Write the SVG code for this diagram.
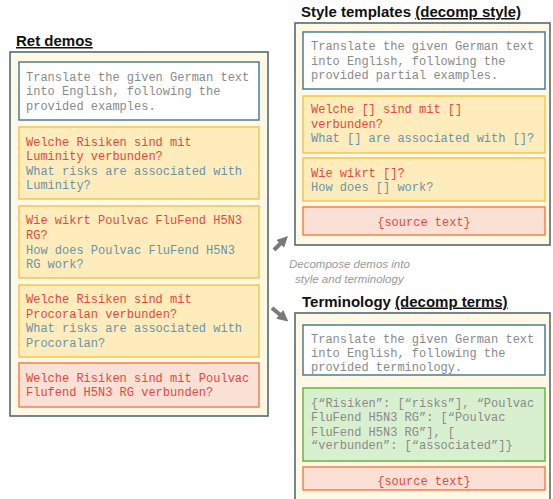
<svg xmlns="http://www.w3.org/2000/svg" width="553" height="499" viewBox="0 0 553 499">
<style>
.panel{fill:#fff8e5;stroke:#55696f;stroke-width:1.6}
.instr{fill:#ffffff;stroke:#3f7290;stroke-width:1.4}
.demo{fill:#feecbc;stroke:#f6c343;stroke-width:1.4}
.src{fill:#fbe1d5;stroke:#ee7b45;stroke-width:1.4}
.term{fill:#d9f0d0;stroke:#5cb13b;stroke-width:1.4}
.mono{font-family:"Liberation Mono","Courier New",monospace;font-size:12px}
.g{fill:#8a8a8a}
.de{fill:#e2493f}
.en{fill:#6a93a8}
.title{font-family:"Liberation Sans",Arial,sans-serif;font-weight:bold;font-size:15px;fill:#111}
.note{font-family:"Liberation Sans",Arial,sans-serif;font-style:italic;font-size:11.5px;fill:#9a9a9a}
.arrow{stroke:#7a7a7a;stroke-width:4;fill:none}
</style>
<defs>
<marker id="ah" viewBox="0 0 10 10" refX="5" refY="5" markerWidth="2.8" markerHeight="2.8" orient="auto">
<path d="M0,0 L10,5 L0,10 z" fill="#7a7a7a"/>
</marker>
</defs>

<g id="ret-demos">
<text class="title" x="16" y="46"><tspan text-decoration="underline">Ret demos</tspan></text>
<rect class="panel" x="10" y="52" width="258" height="364"/>
<rect class="instr" x="19" y="62" width="240" height="58"/>
<text class="mono g"><tspan x="26" y="80.5">Translate the given German text</tspan><tspan x="26" y="95">into English, following the</tspan><tspan x="26" y="109.5">provided examples.</tspan></text>
<rect class="demo" x="19" y="127" width="240" height="72"/>
<text class="mono"><tspan class="de" x="26" y="145.5">Welche Risiken sind mit</tspan><tspan class="de" x="26" y="160">Luminity verbunden?</tspan><tspan class="en" x="26" y="174.5">What risks are associated with</tspan><tspan class="en" x="26" y="189">Luminity?</tspan></text>
<rect class="demo" x="19" y="206" width="240" height="72"/>
<text class="mono"><tspan class="de" x="26" y="224">Wie wikrt Poulvac FluFend H5N3</tspan><tspan class="de" x="26" y="238.5">RG?</tspan><tspan class="en" x="26" y="253.5">How does Poulvac FluFend H5N3</tspan><tspan class="en" x="26" y="267.5">RG work?</tspan></text>
<rect class="demo" x="19" y="285" width="240" height="72"/>
<text class="mono"><tspan class="de" x="26" y="303">Welche Risiken sind mit</tspan><tspan class="de" x="26" y="317.5">Procoralan verbunden?</tspan><tspan class="en" x="26" y="332">What risks are associated with</tspan><tspan class="en" x="26" y="346.5">Procoralan?</tspan></text>
<rect class="src" x="19" y="363" width="240" height="44"/>
<text class="mono de"><tspan x="26" y="381.5">Welche Risiken sind mit Poulvac</tspan><tspan x="26" y="396">Flufend H5N3 RG verbunden?</tspan></text>
</g>

<g id="style-templates">
<text class="title" x="301" y="17">Style templates <tspan text-decoration="underline">(decomp style)</tspan></text>
<rect class="panel" x="295" y="23" width="255" height="222"/>
<rect class="instr" x="303" y="32" width="242" height="57"/>
<text class="mono g"><tspan x="311" y="49.5">Translate the given German text</tspan><tspan x="311" y="64.5">into English, following the</tspan><tspan x="311" y="78.5">provided partial examples.</tspan></text>
<rect class="demo" x="303" y="96" width="242" height="57"/>
<text class="mono"><tspan class="de" x="311" y="113">Welche [] sind mit []</tspan><tspan class="de" x="311" y="128">verbunden?</tspan><tspan class="en" x="311" y="142">What [] are associated with []?</tspan></text>
<rect class="demo" x="303" y="158" width="242" height="43"/>
<text class="mono"><tspan class="de" x="311" y="176.5">Wie wikrt []?</tspan><tspan class="en" x="311" y="190.5">How does [] work?</tspan></text>
<rect class="src" x="303" y="207" width="242" height="28"/>
<text class="mono de" x="424" y="225.5" text-anchor="middle">{source text}</text>
</g>

<g id="terminology">
<text class="title" x="302" y="306.5">Terminology <tspan text-decoration="underline">(decomp terms)</tspan></text>
<rect class="panel" x="295" y="313" width="255" height="200"/>
<rect class="instr" x="303" y="325" width="242" height="50"/>
<text class="mono g"><tspan x="311" y="342.5">Translate the given German text</tspan><tspan x="311" y="356.5">into English, following the</tspan><tspan x="311" y="370.5">provided terminology.</tspan></text>
<rect class="term" x="303" y="388" width="242" height="73"/>
<text class="mono g"><tspan x="311" y="407">{“Risiken”: [“risks”], “Poulvac</tspan><tspan x="311" y="421">FluFend H5N3 RG”: [“Poulvac</tspan><tspan x="311" y="435.5">FluFend H5N3 RG”], [</tspan><tspan x="311" y="449">“verbunden”: [“associated”]}</tspan></text>
<rect class="src" x="303" y="467" width="242" height="23"/>
<text class="mono de" x="424" y="484.5" text-anchor="middle">{source text}</text>
</g>

<g id="connectors">
<line class="arrow" x1="274" y1="250" x2="284" y2="240" marker-end="url(#ah)"/>
<line class="arrow" x1="272" y1="308" x2="284" y2="318" marker-end="url(#ah)"/>
<text class="note"><tspan x="289" y="268">Decompose demos into</tspan><tspan x="295" y="283">style and terminology</tspan></text>
</g>
</svg>
